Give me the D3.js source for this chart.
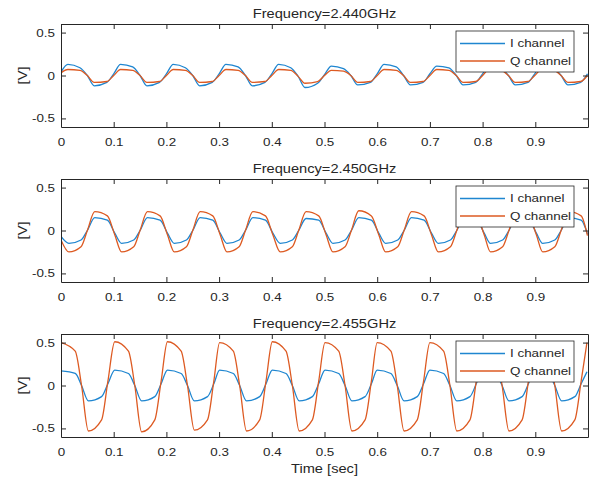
<!DOCTYPE html>
<html>
<head>
<meta charset="utf-8">
<script src="https://cdn.jsdelivr.net/npm/d3@7"></script>
<style>
body{margin:0;background:#fff}
svg{display:block}
text{font-family:"Liberation Sans",Arial,sans-serif;fill:#262626}
</style>
</head>
<body>
<svg id="chart" width="589" height="483"></svg>
<script>
// ---------- data ----------
const panelTitles = ["Frequency=2.440GHz", "Frequency=2.450GHz", "Frequency=2.455GHz"];
const seriesNames = ["I channel", "Q channel"];
const xTicks = [0, 0.1, 0.2, 0.3, 0.4, 0.5, 0.6, 0.7, 0.8, 0.9];
const xTickLabels = ["0", "0.1", "0.2", "0.3", "0.4", "0.5", "0.6", "0.7", "0.8", "0.9"];
const yTicks = [-0.5, 0, 0.5];
const yTickLabels = ["-0.5", "0", "0.5"];
const xLabel = "Time [sec]";
const yLabel = "[V]";

// Panel 1 : 2.440 GHz
const t1 = [0.000,
  0.013,0.036,0.050,0.063,0.087,0.100,
  0.113,0.136,0.150,0.163,0.187,0.200,
  0.213,0.236,0.250,0.263,0.287,0.300,
  0.313,0.336,0.350,0.363,0.387,0.400,
  0.413,0.436,0.450,0.463,0.487,0.500,
  0.513,0.536,0.550,0.563,0.587,0.600,
  0.613,0.636,0.650,0.663,0.687,0.700,
  0.713,0.736,0.750,0.763,0.787,0.800,
  0.812,0.835,0.849,0.862,0.886,0.899,
  0.912,0.935,0.949,0.962,0.986,0.999];
const i1 = [0.04,
  0.13,0.09,0.00,-0.12,-0.08,0.02,
  0.13,0.10,0.00,-0.12,-0.08,0.02,
  0.13,0.09,0.00,-0.12,-0.08,0.02,
  0.13,0.10,0.00,-0.12,-0.08,0.02,
  0.13,0.09,-0.01,-0.14,-0.09,0.01,
  0.11,0.08,0.00,-0.11,-0.08,0.02,
  0.13,0.10,0.00,-0.11,-0.08,0.02,
  0.11,0.09,0.00,-0.11,-0.08,0.02,
  0.12,0.09,0.00,-0.11,-0.08,0.02,
  0.12,0.09,0.00,-0.11,-0.08,0.02];
const q1 = [0.03,
  0.07,0.06,0.00,-0.08,-0.07,0.00,
  0.07,0.06,0.00,-0.08,-0.07,0.00,
  0.07,0.06,0.00,-0.08,-0.07,0.00,
  0.07,0.06,0.00,-0.08,-0.07,0.00,
  0.07,0.06,-0.01,-0.09,-0.07,0.00,
  0.06,0.05,0.00,-0.08,-0.07,0.00,
  0.07,0.06,0.00,-0.08,-0.07,0.00,
  0.07,0.06,0.00,-0.08,-0.07,0.00,
  0.07,0.06,0.00,-0.08,-0.07,0.00,
  0.07,0.06,0.00,-0.08,-0.07,0.00];

// Panel 2 : 2.450 GHz
const t2 = [0.000,
  0.015,0.038,0.050,0.064,0.088,0.102,
  0.115,0.138,0.150,0.164,0.188,0.202,
  0.215,0.238,0.250,0.264,0.288,0.302,
  0.315,0.338,0.350,0.364,0.388,0.402,
  0.416,0.439,0.451,0.465,0.489,0.503,
  0.516,0.539,0.551,0.565,0.589,0.603,
  0.616,0.639,0.651,0.665,0.689,0.703,
  0.716,0.739,0.751,0.765,0.789,0.803,
  0.815,0.838,0.850,0.864,0.888,0.902,
  0.914,0.937,0.949,0.963,0.987,0.999];
const i2 = [-0.07,
  -0.15,-0.11,0.00,0.15,0.12,-0.03,
  -0.15,-0.11,0.00,0.15,0.12,-0.03,
  -0.15,-0.11,0.00,0.15,0.12,-0.03,
  -0.15,-0.11,0.00,0.15,0.12,-0.03,
  -0.15,-0.11,0.00,0.14,0.12,-0.03,
  -0.15,-0.11,0.00,0.15,0.12,-0.03,
  -0.15,-0.11,0.00,0.15,0.12,-0.03,
  -0.15,-0.11,0.00,0.15,0.12,-0.03,
  -0.15,-0.11,0.00,0.15,0.12,-0.03,
  -0.15,-0.11,0.00,0.15,0.12,-0.04];
const q2 = [-0.11,
  -0.25,-0.19,0.00,0.22,0.17,-0.05,
  -0.25,-0.19,0.00,0.22,0.17,-0.05,
  -0.25,-0.19,0.00,0.22,0.17,-0.05,
  -0.25,-0.19,0.00,0.22,0.17,-0.05,
  -0.25,-0.19,0.00,0.22,0.17,-0.05,
  -0.25,-0.19,0.00,0.23,0.17,-0.05,
  -0.25,-0.19,0.00,0.22,0.17,-0.05,
  -0.25,-0.19,0.00,0.22,0.17,-0.05,
  -0.25,-0.19,0.00,0.22,0.17,-0.05,
  -0.25,-0.19,0.00,0.22,0.17,-0.06];

// Panel 3 : 2.455 GHz
const t3 = [0.000,0.027,0.039,0.052,0.077,0.089,
  0.102,0.128,0.140,0.153,0.178,0.190,
  0.202,0.228,0.240,0.253,0.278,0.290,
  0.301,0.327,0.339,0.352,0.377,0.389,
  0.401,0.427,0.439,0.452,0.477,0.489,
  0.501,0.527,0.539,0.552,0.577,0.589,
  0.600,0.626,0.638,0.651,0.676,0.688,
  0.700,0.726,0.738,0.751,0.776,0.788,
  0.799,0.825,0.837,0.850,0.875,0.887,
  0.899,0.925,0.937,0.950,0.975,0.987,
  0.998];
const i3 = [0.17,0.14,0.00,-0.18,-0.13,0.02,
  0.18,0.14,0.00,-0.18,-0.13,0.02,
  0.18,0.14,0.00,-0.18,-0.13,0.02,
  0.18,0.14,0.00,-0.18,-0.13,0.02,
  0.18,0.14,0.00,-0.18,-0.13,0.02,
  0.18,0.14,0.00,-0.18,-0.13,0.02,
  0.18,0.14,0.00,-0.18,-0.13,0.02,
  0.18,0.14,0.00,-0.18,-0.13,0.02,
  0.18,0.14,0.00,-0.18,-0.13,0.02,
  0.18,0.14,0.00,-0.18,-0.13,0.02,
  0.16];
const q3 = [0.50,0.40,0.00,-0.53,-0.40,0.05,
  0.51,0.40,0.00,-0.54,-0.40,0.05,
  0.51,0.40,0.00,-0.52,-0.40,0.05,
  0.50,0.40,0.00,-0.53,-0.40,0.05,
  0.51,0.40,0.00,-0.53,-0.40,0.05,
  0.50,0.40,0.00,-0.53,-0.40,0.05,
  0.50,0.40,0.00,-0.53,-0.40,0.05,
  0.50,0.40,0.00,-0.53,-0.40,0.05,
  0.50,0.40,0.00,-0.53,-0.40,0.05,
  0.50,0.40,0.00,-0.53,-0.40,0.05,
  0.50];

const panels = [
  {title: panelTitles[0], t: t1, I: i1, Q: q1},
  {title: panelTitles[1], t: t2, I: i2, Q: q2},
  {title: panelTitles[2], t: t3, I: i3, Q: q3}
];

// ---------- layout ----------
const colors = ["#1f86d0", "#dd5a22"];
const left = 61, right = 588, plotH = 103;
const tops = [24, 179, 334];
const SX = 1.22; // horizontal text stretch to match the reference
const axisColor = "#262626";

const svg = d3.select("#chart");
const x = d3.scaleLinear().domain([0, 1]).range([left, right]);

panels.forEach((p, pi) => {
  const top = tops[pi];
  const y = d3.scaleLinear().domain([-0.6, 0.6]).range([top + plotH, top]);
  const g = svg.append("g");

  const clipId = "clip" + pi;
  svg.append("defs").append("clipPath").attr("id", clipId)
    .append("rect").attr("x", left).attr("y", top).attr("width", right - left).attr("height", plotH);

  // lines
  const line = d3.line().x(d => x(d[0])).y(d => y(d[1])).curve(d3.curveMonotoneX);
  const lg = g.append("g").attr("clip-path", `url(#${clipId})`);
  [p.I, p.Q].forEach((vals, si) => {
    const pts = p.t.map((tt, k) => [tt, vals[k]]);
    lg.append("path").datum(pts).attr("d", line)
      .attr("fill", "none").attr("stroke", colors[si]).attr("stroke-width", 1.3)
      .attr("stroke-linejoin", "round");
  });

  // axes
  const gx = g.append("g").attr("transform", `translate(0,${top + plotH})`)
    .call(d3.axisBottom(x).tickValues(xTicks).tickFormat((d, i) => xTickLabels[i])
      .tickSize(-5).tickSizeOuter(0).tickPadding(11));
  const gxt = g.append("g").attr("transform", `translate(0,${top})`)
    .call(d3.axisTop(x).tickValues(xTicks).tickFormat("").tickSize(-5).tickSizeOuter(0));
  const gy = g.append("g").attr("transform", `translate(${left},0)`)
    .call(d3.axisLeft(y).tickValues(yTicks).tickFormat((d, i) => yTickLabels[i])
      .tickSize(-5).tickSizeOuter(0).tickPadding(6));
  const gyr = g.append("g").attr("transform", `translate(${right},0)`)
    .call(d3.axisRight(y).tickValues(yTicks).tickFormat("").tickSize(-5).tickSizeOuter(0));

  [gx, gxt, gy, gyr].forEach(a => {
    a.select(".domain").attr("stroke", axisColor).attr("stroke-width", 1);
    a.selectAll(".tick line").attr("stroke", axisColor).attr("stroke-width", 1);
  });
  gx.selectAll(".tick text").attr("font-size", 11).attr("fill", axisColor)
    .attr("font-family", "Liberation Sans, Arial, sans-serif")
    .attr("transform", `scale(${SX},1)`);
  gy.selectAll(".tick text").attr("font-size", 11).attr("fill", axisColor)
    .attr("font-family", "Liberation Sans, Arial, sans-serif")
    .attr("x", -6 / SX).attr("transform", `scale(${SX},1)`);

  // title
  g.append("text").attr("transform", `translate(${(left + right) / 2},${top - 6.5}) scale(${SX},1)`)
    .attr("text-anchor", "middle").attr("font-size", 12).text(p.title);

  // y label
  g.append("text").attr("transform", `translate(22.5,${top + plotH / 2}) rotate(-90) scale(${SX},1)`)
    .attr("text-anchor", "middle").attr("dy", "0.35em").attr("font-size", 12).text(yLabel);

  // legend
  const lgX = 456, lgY = top + 7, lgW = 118, lgH = 41;
  const leg = g.append("g");
  leg.append("rect").attr("x", lgX).attr("y", lgY).attr("width", lgW).attr("height", lgH)
    .attr("fill", "#fff").attr("stroke", axisColor).attr("stroke-width", 0.8);
  const rowsY = [top + 19.5, top + 37];
  seriesNames.forEach((name, si) => {
    leg.append("line").attr("x1", 460).attr("x2", 505).attr("y1", rowsY[si]).attr("y2", rowsY[si])
      .attr("stroke", colors[si]).attr("stroke-width", 1.3);
    leg.append("text").attr("transform", `translate(510,${rowsY[si]}) scale(${SX},1)`)
      .attr("dy", "0.35em").attr("font-size", 11).text(name);
  });
});

// x label
svg.append("text").attr("transform", `translate(${(left + right) / 2},473) scale(${SX},1)`)
  .attr("text-anchor", "middle").attr("font-size", 12).text(xLabel);
</script>
</body>
</html>
